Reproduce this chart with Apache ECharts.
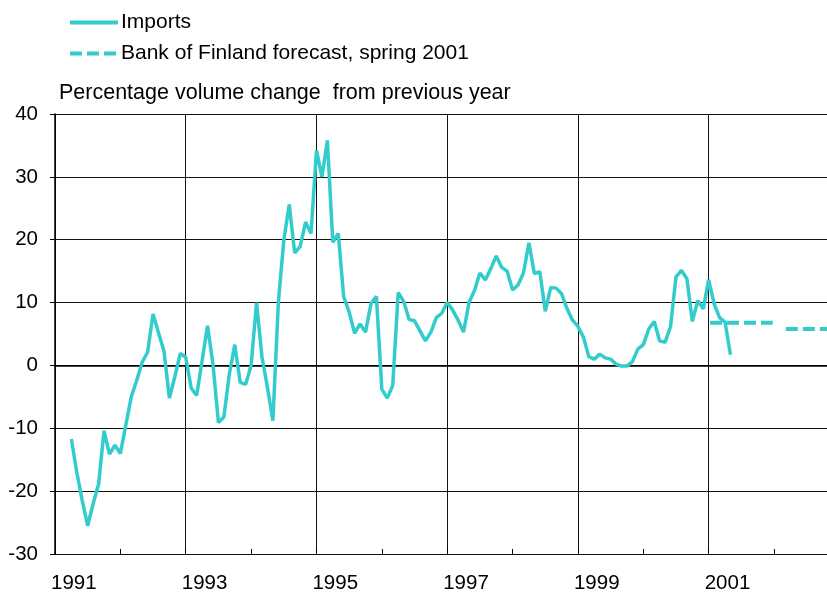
<!DOCTYPE html>
<html>
<head>
<meta charset="utf-8">
<script src="https://cdn.jsdelivr.net/npm/echarts@6/dist/echarts.min.js"></script>
<style>
  html, body { margin: 0; padding: 0; background: #fff; }
  #chart { width: 827px; height: 594px; }
</style>
</head>
<body>
<div id="chart"></div>
<script>
// monthly observations, first one is April 1991 (month index 3 from Jan 1991)
var firstMonth = 3;
var imports = [
  -11.7, -17, -21.5, -25.5, -22, -18.9, -10.4, -14.1, -12.7,
  -14, -9.5, -5, -2.4, 0.5, 2.1, 8.2, 5.2, 2.3, -5.2, -1.8, 1.9,
  1.3, -3.6, -4.8, 0.7, 6.3, 0.2, -9.1, -8.2, -1.4, 3.3, -2.7, -3,
  0, 10, 1.3, -3.5, -8.8, 10, 19.9, 25.6, 17.9, 18.9, 22.8, 21,
  34.2, 30, 35.8, 19.6, 21, 10.9, 8.5, 5.1, 6.6, 5.3, 9.8, 11,
  -3.8, -5.2, -3.2, 11.6, 10.2, 7.3, 7.1, 5.5, 3.9, 5.3, 7.6, 8.3,
  10, 8.8, 7.2, 5.3, 10, 11.9, 14.7, 13.6, 15.4, 17.4, 15.6, 15,
  12, 12.8, 14.7, 19.5, 14.6, 14.9, 8.6, 12.4, 12.3, 11.4, 9, 7.2,
  6.2, 4.5, 1.4, 1, 1.8, 1.2, 1, 0.2, -0.1, -0.1, 0.6, 2.6,
  3.3, 5.8, 7, 3.9, 3.7, 6.2, 14.1, 15.1, 13.8, 7, 10.3, 9,
  13.6, 9.8, 7.6, 6.9, 1.7
];

// Bank of Finland forecast, annual averages
var forecastStart = [2001.02, 2002.18];
var forecastEnd = [2001.98, 2003];
var forecastValues = [6.8, 5.8];

var yTicks = { min: -30, max: 40, step: 10 };

var importsData = imports.map(function (v, i) {
  return [1991 + (firstMonth + i) / 12, v];
});
var forecastData = [];
forecastValues.forEach(function (v, i) {
  if (i > 0) forecastData.push([forecastStart[i], '-']);
  forecastData.push([forecastStart[i], v]);
  forecastData.push([forecastEnd[i], v]);
});

var font = 'Liberation Sans, Arial, sans-serif';
var chart = echarts.init(document.getElementById('chart'));

var option = {
  animation: false,
  textStyle: { fontFamily: font, color: '#000' },
  title: {
    text: 'Percentage volume change  from previous year',
    left: 59,
    top: 82,
    padding: 0,
    textStyle: { fontFamily: font, fontSize: 21.5, fontWeight: 'normal', color: '#000' }
  },
  legend: {
    orient: 'vertical',
    left: 68,
    top: 12,
    padding: 0,
    itemWidth: 48,
    itemHeight: 14,
    itemGap: 10,
    itemStyle: { opacity: 0 },
    lineStyle: { width: 4 },
    textStyle: { fontFamily: font, fontSize: 21, color: '#000', padding: [0, 0, 0, -2] },
    data: ['Imports', 'Bank of Finland forecast, spring 2001']
  },
  grid: { left: 55, right: 0, top: 114, bottom: 40 },
  xAxis: [
    {
      type: 'value',
      min: 1991,
      max: 2002.81,
      interval: 2,
      axisLine: { show: true, lineStyle: { color: '#000', width: 1.5 } },
      axisTick: { show: false },
      axisLabel: {
        margin: 19,
        align: 'left',
        fontSize: 20.5,
        color: '#000',
        fontFamily: font,
        showMaxLabel: false,
        padding: [0, 0, 0, -4],
        formatter: function (v) { return (Number.isInteger(v) && v % 2 === 1) ? String(v) : ''; }
      },
      splitLine: { show: true, lineStyle: { color: '#111', width: 1 } }
    },
    {
      type: 'value',
      min: 1991,
      max: 2002.81,
      interval: 1,
      position: 'bottom',
      axisLine: { show: false },
      axisTick: { show: true, inside: true, length: 5, lineStyle: { color: '#000' } },
      axisLabel: { show: false },
      splitLine: { show: false }
    }
  ],
  yAxis: {
    type: 'value',
    min: yTicks.min,
    max: yTicks.max,
    interval: yTicks.step,
    axisLine: { show: true, lineStyle: { color: '#000', width: 1.5 } },
    axisTick: { show: true, length: 5, lineStyle: { color: '#000' } },
    axisLabel: { margin: 17, fontSize: 20.5, color: '#000', fontFamily: font },
    splitLine: { show: true, lineStyle: { color: '#111', width: 1 } }
  },
  series: [
    {
      name: 'Imports',
      type: 'line',
      data: importsData,
      showSymbol: false,
      symbol: 'none',
      lineStyle: { color: '#33CCCC', width: 3.5 },
      itemStyle: { color: '#33CCCC' }
    },
    {
      name: 'Bank of Finland forecast, spring 2001',
      type: 'line',
      data: forecastData,
      showSymbol: false,
      symbol: 'none',
      connectNulls: false,
      lineStyle: { color: '#33CCCC', width: 4, type: [12, 5] },
      itemStyle: { color: '#33CCCC' }
    }
  ]
};

chart.setOption(option);
</script>
</body>
</html>
